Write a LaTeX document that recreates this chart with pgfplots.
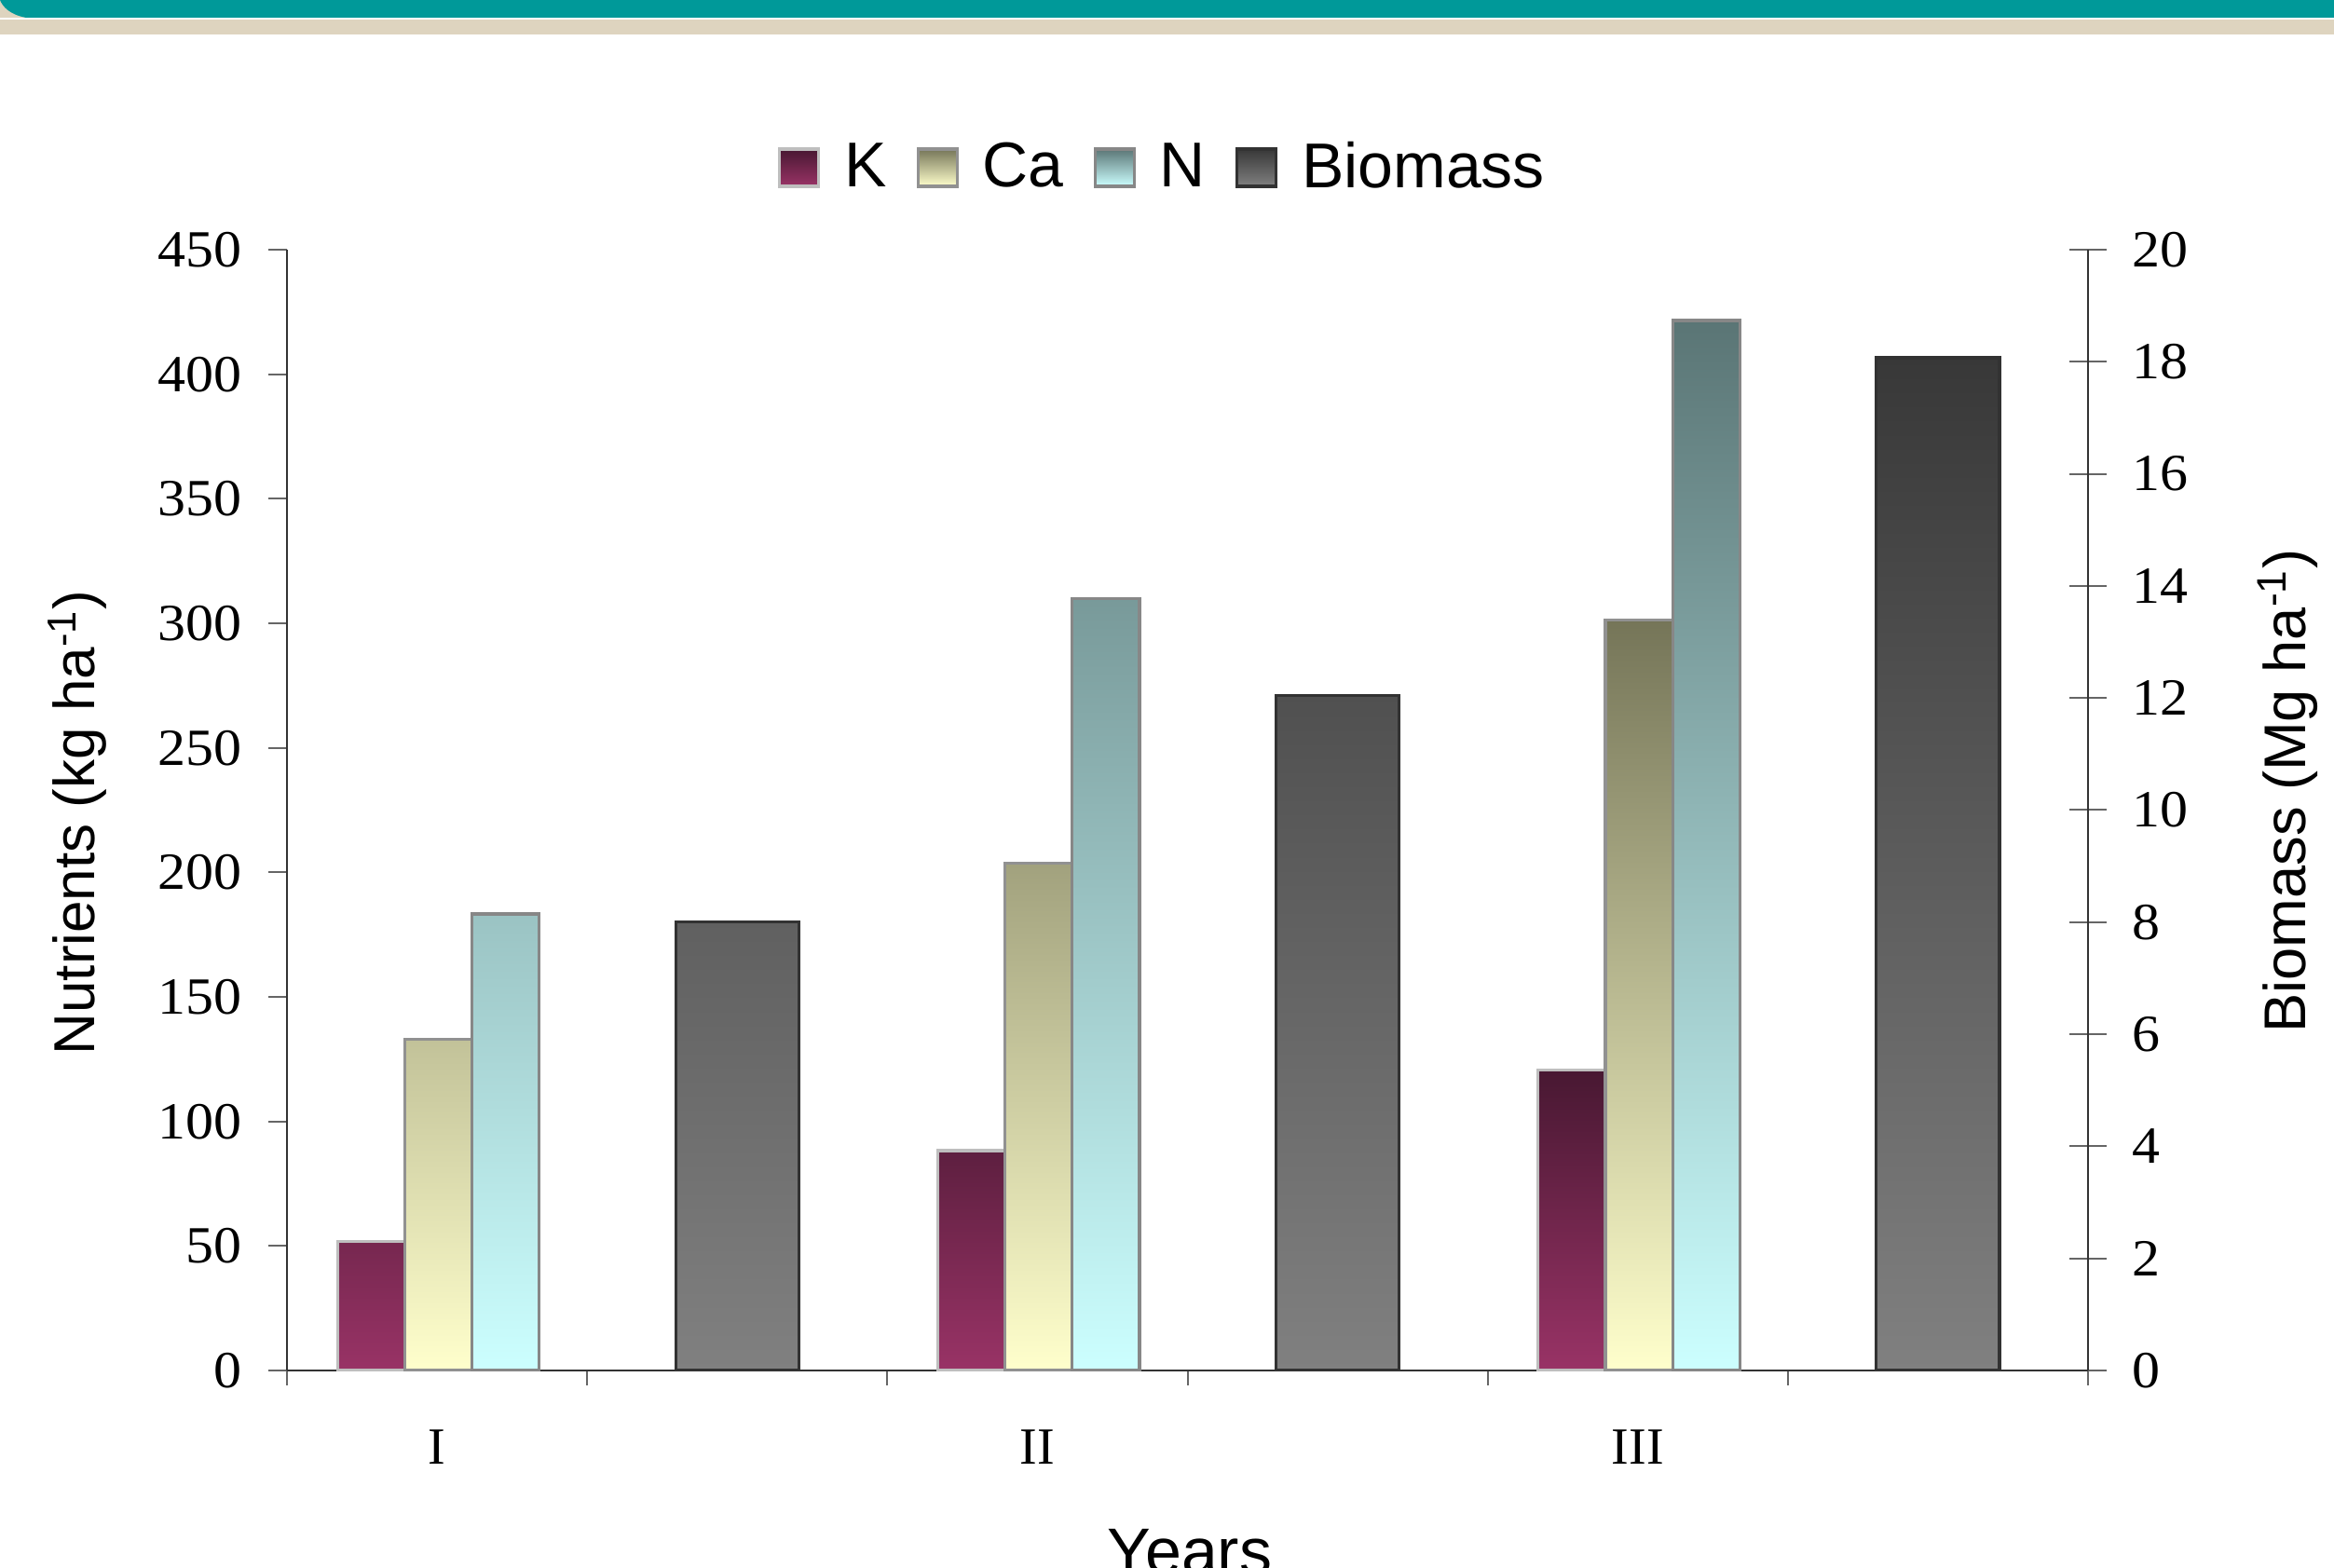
\documentclass[border=0pt]{standalone}
\usepackage{pgfplots}
\pgfplotsset{compat=1.18}
\usepackage{fontspec}
\usepackage{graphicx}
\setmainfont{Liberation Serif}
\setsansfont{Liberation Sans}
\newfontfamily\arialf{Liberation Sans}
\newfontfamily\tmsf{Liberation Serif}
\definecolor{bandteal}{RGB}{0,153,153}
\definecolor{bandbeige}{RGB}{222,212,191}
\definecolor{Ktop}{RGB}{72,24,50}
\definecolor{Kbot}{RGB}{153,51,102}
\definecolor{Kdraw}{RGB}{190,190,190}
\definecolor{Catop}{RGB}{117,117,88}
\definecolor{Cabot}{RGB}{255,255,204}
\definecolor{Cadraw}{RGB}{145,145,145}
\definecolor{Ntop}{RGB}{90,117,117}
\definecolor{Nbot}{RGB}{204,255,255}
\definecolor{Ndraw}{RGB}{135,135,135}
\definecolor{Btop}{RGB}{56,56,56}
\definecolor{Bbot}{RGB}{128,128,128}
\definecolor{Bdraw}{RGB}{50,50,50}
\pgfplotsset{
  sqlegend/.style={legend image code/.code={\draw[##1] (0pt,-5pt) rectangle (10.5pt,5pt);}},
}
\begin{document}
\begin{tikzpicture}
% slide banner
\fill[bandbeige] (0pt,411.25pt) rectangle (626.25pt,420.5pt);
\fill[white] (0pt,415.25pt) rectangle (626.25pt,415.75pt);
\fill[bandteal] (7pt,415.75pt) .. controls (2.6pt,416.6pt) and (0.8pt,418.6pt) .. (0pt,420.5pt) -- (626.25pt,420.5pt) -- (626.25pt,415.75pt) -- cycle;
% secondary axis (Biomass)
\begin{axis}[
  at={(77pt,52.75pt)}, anchor=south west,
  scale only axis, width=483.25pt, height=300.75pt,
  xmin=-0.5, xmax=5.5, ymin=0, ymax=20,
  axis x line=none, axis y line*=right,
  axis line style={black!80, line width=0.5pt, -},
  tick style={black!60, line width=0.5pt},
  tick align=center, major tick length=10pt,
  ytick={0,2,...,20},
  /pgf/number format/assume math mode=true,
  yticklabel={\scalebox{1.07}[1]{\pgfmathprintnumber{\tick}}},
  yticklabel style={anchor=west, inner sep=0pt, xshift=6.75pt, font=\tmsf\fontsize{14pt}{16pt}\selectfont},
  every axis y label/.style={at={(axis description cs:1.1107,0.517)}, anchor=center, rotate=90},
  ylabel={\arialf\fontsize{15.8pt}{19pt}\selectfont Biomass (Mg ha\textsuperscript{-1})},
]
\addplot[ybar, bar width=0.41, bar shift=0pt, draw=Bdraw, line width=0.8pt, top color=Btop, bottom color=Bbot]
  coordinates {(1,8.0) (3,12.05) (5,18.07)};
\end{axis}
% primary axis (Nutrients)
\begin{axis}[
  at={(77pt,52.75pt)}, anchor=south west,
  scale only axis, width=483.25pt, height=300.75pt,
  xmin=-0.5, xmax=5.5, ymin=0, ymax=450,
  axis x line*=bottom, axis y line*=left,
  axis line style={black!80, line width=0.5pt, -},
  tick style={black!60, line width=0.5pt},
  tick align=outside,
  major tick length=5pt, minor tick length=4pt,
  xtick={0,2,4}, xticklabels={I,II,III},
  major x tick style={draw=none},
  minor xtick={-0.5,0.5,...,5.5},
  ytick={0,50,...,450},
  /pgf/number format/assume math mode=true,
  yticklabel={\scalebox{1.07}[1]{\pgfmathprintnumber{\tick}}},
  yticklabel style={anchor=east, inner sep=0pt, xshift=-7pt, font=\tmsf\fontsize{14pt}{16pt}\selectfont},
  xticklabel style={anchor=center, inner sep=0pt, yshift=-15.5pt, font=\tmsf\fontsize{14pt}{16pt}\selectfont},
  every axis y label/.style={at={(axis description cs:-0.1164,0.4888)}, anchor=center, rotate=90},
  ylabel={\arialf\fontsize{15.5pt}{19pt}\selectfont Nutrients (kg ha\textsuperscript{-1})},
  every axis x label/.style={at={(axis description cs:0.5013,-0.182)}, anchor=base},
  xlabel={\arialf\fontsize{17.5pt}{20pt}\selectfont Years},
  legend columns=4,
  legend style={at={(axis description cs:0.4855,1.0732)}, anchor=center, draw=none, fill=none,
    font=\arialf\fontsize{17pt}{20pt}\selectfont, inner sep=0pt, column sep=0pt,
    nodes={inner sep=0pt},
    /tikz/every odd column/.append style={column sep=6.5pt},
    /tikz/every even column/.append style={column sep=8pt}},
]
\addplot[ybar, sqlegend, bar width=0.224, bar shift=0pt, draw=Kdraw, line width=0.8pt, top color=Ktop, bottom color=Kbot]
  coordinates {(-0.22,51.8) (1.78,88.3) (3.78,120.6)};
\addlegendentry{K}
\addplot[ybar, sqlegend, bar width=0.224, bar shift=0pt, draw=Cadraw, line width=0.8pt, top color=Catop, bottom color=Cabot]
  coordinates {(0.004,133.1) (2.004,203.6) (4.004,301.2)};
\addlegendentry{Ca}
\addplot[ybar, sqlegend, bar width=0.224, bar shift=0pt, draw=Ndraw, line width=0.8pt, top color=Ntop, bottom color=Nbot]
  coordinates {(0.228,183.3) (2.228,310.0) (4.228,421.6)};
\addlegendentry{N}
\addlegendimage{sqlegend, draw=Bdraw, line width=0.8pt, top color=Btop, bottom color=Bbot}
\addlegendentry{Biomass}
\end{axis}
\pgfresetboundingbox
\useasboundingbox (0pt,0pt) rectangle (626.25pt,420.5pt);
\end{tikzpicture}
\end{document}
